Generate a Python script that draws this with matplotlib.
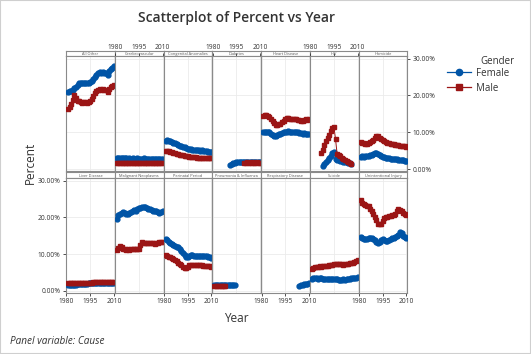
import matplotlib
matplotlib.use('Agg')
import matplotlib.pyplot as plt
from matplotlib.lines import Line2D
from matplotlib.patches import Rectangle

plt.rcParams['font.family'] = ['Open Sans', 'DejaVu Sans']

BLUE = '#0054a6'
RED = '#9b1515'
GRID = '#ebebeb'
EDGE = '#8a8a8a'
TXT = '#333333'

W, H = 531, 354

years = list(range(1981, 2011))

# percent of deaths by cause, female / male
all_other_f = [21.0, 21.1, 21.2, 21.5, 22.0, 22.4, 22.9, 23.3, 23.4, 23.5, 23.4, 23.3, 23.5, 23.4, 23.6,
               23.8, 24.5, 25.1, 25.6, 26.1, 26.3, 26.2, 26.4, 26.0, 26.2, 25.6, 26.5, 27.1, 27.3, 27.9]
all_other_m = [16.2, 16.9, 17.8, 18.9, 20.1, 19.4, 18.6, 18.5, 18.2, 18.0, 18.1, 18.2, 18.0, 18.3, 18.6,
               19.0, 19.8, 20.6, 21.3, 21.6, 21.8, 21.5, 21.7, 21.4, 21.6, 21.0, 21.8, 22.3, 22.5, 22.9]
cerebro_f = [3.1, 3.1, 3.0, 3.1, 3.0, 3.0, 3.0, 2.9, 3.0, 2.9, 3.0, 2.9, 2.9, 3.0, 2.9,
             2.9, 2.9, 3.0, 2.9, 2.9, 2.8, 2.9, 2.8, 2.8, 2.9, 2.8, 2.8, 2.8, 2.7, 2.8]
cerebro_m = [1.8, 1.8, 1.7, 1.8, 1.7, 1.7, 1.6, 1.7, 1.7, 1.6, 1.7, 1.7, 1.6, 1.7, 1.7,
             1.6, 1.7, 1.6, 1.7, 1.7, 1.6, 1.7, 1.6, 1.7, 1.6, 1.7, 1.7, 1.6, 1.7, 1.7]
congenital_f = [7.8, 7.9, 7.7, 7.6, 7.4, 7.2, 7.0, 6.8, 6.6, 6.4, 6.3, 6.1, 6.0, 5.8, 5.6,
                5.5, 5.4, 5.3, 5.2, 5.3, 5.1, 5.1, 5.0, 5.1, 5.0, 4.9, 4.9, 4.8, 4.8, 4.6]
congenital_m = [4.9, 5.0, 4.9, 4.8, 4.6, 4.5, 4.4, 4.2, 4.1, 3.9, 3.9, 3.8, 3.7, 3.6, 3.5,
                3.4, 3.4, 3.4, 3.3, 3.3, 3.2, 3.2, 3.2, 3.1, 3.1, 3.1, 3.0, 3.0, 3.0, 3.0]
diabetes_f_years = list(range(1991, 2011))
diabetes_f = [1.2, 1.4, 1.6, 1.8, 1.9, 2.0, 2.0, 2.0, 2.1, 2.0, 2.0, 2.0, 2.1, 2.0, 2.0, 2.0, 2.1, 2.0, 2.0, 2.0]
diabetes_m_years = list(range(2000, 2011))
diabetes_m = [1.8, 1.8, 1.9, 1.8, 1.8, 1.9, 1.8, 1.8, 1.9, 1.8, 1.8]
heart_f = [10.0, 10.1, 10.2, 10.2, 10.0, 9.7, 9.3, 9.1, 9.1, 9.3, 9.5, 9.7, 9.8, 10.0, 10.1,
           10.2, 10.3, 10.2, 10.1, 10.1, 10.0, 10.0, 10.1, 9.9, 9.8, 9.7, 9.8, 9.7, 9.6, 9.5]
heart_m = [14.5, 14.6, 14.7, 14.5, 14.1, 13.6, 13.1, 12.6, 12.1, 12.0, 12.2, 12.4, 12.7, 13.2, 13.7,
           13.9, 13.8, 13.7, 13.7, 13.6, 13.5, 13.5, 13.4, 13.3, 13.2, 13.1, 13.3, 13.6, 13.4, 13.5]
hiv_f_years = list(range(1988, 2007))
hiv_f = [1.0, 1.5, 2.0, 2.6, 3.1, 3.7, 4.4, 4.8, 2.9, 2.6, 2.4, 2.3, 2.2, 2.1, 2.0, 1.9, 1.7, 1.6, 1.4]
hiv_m_years = list(range(1987, 2007))
hiv_m = [4.3, 5.3, 6.6, 7.6, 8.6, 9.4, 10.4, 11.2, 11.4, 8.2, 4.2, 3.8, 3.5, 3.2, 2.9, 2.6, 2.3, 2.0, 1.8, 1.5]
homicide_f = [3.4, 3.5, 3.4, 3.6, 3.6, 3.7, 3.8, 4.0, 4.2, 4.4, 4.4, 4.2, 3.9, 3.6, 3.4,
              3.3, 3.2, 3.1, 3.0, 2.9, 2.9, 2.8, 2.8, 2.7, 2.6, 2.5, 2.5, 2.4, 2.3, 2.3]
homicide_m = [7.4, 7.2, 7.0, 6.9, 6.9, 7.1, 7.3, 7.6, 8.0, 8.4, 8.9, 9.0, 8.6, 8.2, 7.9,
              7.6, 7.3, 7.1, 7.0, 6.9, 6.9, 6.8, 6.7, 6.6, 6.5, 6.4, 6.4, 6.3, 6.2, 6.0]
liver_f = [1.6, 1.6, 1.7, 1.6, 1.7, 1.7, 1.8, 1.8, 1.8, 1.9, 1.9, 1.9, 1.9, 2.0, 2.0,
           2.0, 2.0, 2.1, 2.0, 2.0, 2.1, 2.1, 2.0, 2.1, 2.1, 2.1, 2.1, 2.1, 2.2, 2.2]
liver_m = [2.0, 2.0, 2.0, 2.0, 2.0, 2.0, 2.1, 2.1, 2.1, 2.1, 2.1, 2.1, 2.2, 2.2, 2.2,
           2.2, 2.3, 2.4, 2.4, 2.3, 2.3, 2.4, 2.4, 2.3, 2.4, 2.3, 2.4, 2.4, 2.4, 2.4]
neoplasm_f = [19.4, 20.5, 21.0, 21.3, 21.5, 21.3, 21.0, 20.9, 21.2, 21.4, 21.6, 22.0, 21.8, 22.2, 22.4,
              22.6, 22.9, 22.8, 22.7, 22.5, 22.2, 22.2, 22.0, 21.8, 21.6, 21.7, 21.5, 21.3, 21.4, 21.6]
neoplasm_m = [11.2, 11.6, 12.1, 11.8, 11.4, 11.3, 11.2, 11.3, 11.2, 11.3, 11.3, 11.4, 11.4, 11.3, 11.5,
              12.4, 13.2, 13.1, 13.0, 13.1, 13.0, 12.9, 13.0, 12.9, 12.8, 12.9, 13.0, 13.2, 13.3, 13.4]
perinatal_f = [14.0, 13.7, 13.4, 13.1, 12.8, 12.5, 12.3, 12.0, 11.9, 11.4, 10.9, 10.3, 9.7, 9.1, 9.2,
               9.6, 9.8, 9.7, 9.5, 9.5, 9.6, 9.5, 9.4, 9.5, 9.6, 9.5, 9.4, 9.3, 9.1, 8.9]
perinatal_m = [9.8, 9.6, 9.3, 9.1, 8.8, 8.6, 8.3, 8.0, 7.7, 7.3, 7.0, 6.6, 6.3, 6.1, 6.4,
               6.9, 7.1, 7.0, 7.1, 7.0, 7.0, 6.9, 6.9, 6.9, 6.8, 6.8, 6.8, 6.7, 6.7, 6.6]
pneumonia_f_years = list(range(1981, 1995))
pneumonia_f = [1.6, 1.6, 1.5, 1.6, 1.6, 1.6, 1.5, 1.6, 1.6, 1.6, 1.6, 1.6, 1.7, 1.6]
pneumonia_m_years = list(range(1981, 1989))
pneumonia_m = [1.3, 1.2, 1.3, 1.2, 1.2, 1.3, 1.2, 1.2]
respiratory_f_years = list(range(2004, 2011))
respiratory_f = [1.4, 1.5, 1.5, 1.8, 1.9, 1.9, 2.0]
suicide_f = [3.3, 3.4, 3.4, 3.4, 3.3, 3.4, 3.4, 3.3, 3.3, 3.2, 3.3, 3.2, 3.2, 3.2, 3.1,
             3.1, 3.1, 3.0, 3.0, 3.0, 3.1, 3.0, 3.1, 3.2, 3.3, 3.4, 3.4, 3.5, 3.6, 3.7]
suicide_m = [6.0, 6.2, 6.5, 6.6, 6.6, 6.7, 6.6, 6.7, 6.7, 6.8, 6.8, 6.9, 7.0, 7.1, 7.3,
             7.4, 7.3, 7.2, 7.2, 7.2, 7.1, 7.2, 7.2, 7.3, 7.5, 7.6, 7.6, 7.8, 8.1, 8.3]
injury_f = [14.6, 14.3, 14.0, 14.1, 14.2, 14.3, 14.4, 14.3, 14.0, 13.7, 13.3, 13.0, 13.3, 13.7, 14.0,
            13.8, 13.6, 13.5, 13.8, 14.1, 14.3, 14.4, 14.6, 15.0, 15.3, 15.9, 15.6, 15.0, 14.6, 14.3]
injury_m = [24.7, 24.0, 23.7, 23.4, 23.2, 23.0, 22.2, 21.6, 21.0, 20.2, 19.3, 18.3, 18.1, 18.3, 19.0,
            19.8, 20.0, 20.1, 20.3, 20.4, 20.5, 20.7, 21.0, 21.6, 22.2, 21.9, 21.6, 21.2, 20.9, 20.7]

# (label, female years, female values, male years, male values)
top_row = [
    ('All Other', years, all_other_f, years, all_other_m),
    ('Cerebrovascular', years, cerebro_f, years, cerebro_m),
    ('Congenital Anomalies', years, congenital_f, years, congenital_m),
    ('Diabetes', diabetes_f_years, diabetes_f, diabetes_m_years, diabetes_m),
    ('Heart Disease', years, heart_f, years, heart_m),
    ('HIV', hiv_f_years, hiv_f, hiv_m_years, hiv_m),
    ('Homicide', years, homicide_f, years, homicide_m),
]
bottom_row = [
    ('Liver Disease', years, liver_f, years, liver_m),
    ('Malignant Neoplasms', years, neoplasm_f, years, neoplasm_m),
    ('Perinatal Period', years, perinatal_f, years, perinatal_m),
    ('Pneumonia & Influenza', pneumonia_f_years, pneumonia_f, pneumonia_m_years, pneumonia_m),
    ('Respiratory Disease', respiratory_f_years, respiratory_f, [], []),
    ('Suicide', years, suicide_f, years, suicide_m),
    ('Unintentional Injury', years, injury_f, years, injury_m),
]

x_ticks = [1980, 1995, 2010]
y_ticks = [0, 10, 20, 30]
y_labels = ['0.00%', '10.00%', '20.00%', '30.00%']


def px_rect(left, top, width, height):
    return [left / W, 1 - (top + height) / H, width / W, height / H]


def style_spines(ax):
    for s in ax.spines.values():
        s.set_color(EDGE)
        s.set_linewidth(0.8)


def draw_panel(ax, panel, row, col):
    label, fy, fv, my, mv = panel
    ax.set_xlim(1979.7, 2010.6)
    ax.set_ylim(-0.45, 30.6)
    ax.set_xticks(x_ticks)
    ax.set_yticks(y_ticks)
    ax.grid(True, color=GRID, lw=0.6)
    ax.set_axisbelow(True)
    style_spines(ax)
    if len(fy):
        ax.plot(fy, fv, color=BLUE, lw=0.7, marker='o', ms=3.5, mec=BLUE, zorder=3)
    if len(my):
        ax.plot(my, mv, color=RED, lw=0.7, marker='s', ms=3.4, mec=RED, zorder=4)
    ax.tick_params(labelsize=4.8, colors=TXT, length=2.5, width=0.6,
                   labelbottom=False, labeltop=False, labelleft=False, labelright=False,
                   bottom=False, top=False, left=False, right=False, pad=1.5)
    if row == 0:
        if col % 2 == 1:
            ax.tick_params(top=True, labeltop=True)
        if col == 6:
            ax.tick_params(right=True, labelright=True)
    else:
        if col % 2 == 0:
            ax.tick_params(bottom=True, labelbottom=True)
        if col == 0:
            ax.tick_params(left=True, labelleft=True)
    ax.set_yticklabels(y_labels)


def draw_header(hax, label):
    hax.set_xticks([])
    hax.set_yticks([])
    style_spines(hax)
    hax.text(0.5, 0.45, label, ha='center', va='center', fontsize=2.8, color='#555555',
             transform=hax.transAxes)


fig = plt.figure(figsize=(W / 100, H / 100), dpi=100)

left0 = 66.0
col_w = 48.76
rows = [(top_row, 50.7, 56.3, 171.0), (bottom_row, 172.3, 178.3, 292.5)]

for r, (panels, h_top, p_top, p_bot) in enumerate(rows):
    for c, panel in enumerate(panels):
        x0 = left0 + c * col_w
        hax = fig.add_axes(px_rect(x0, h_top, col_w, p_top - h_top))
        draw_header(hax, panel[0])
        ax = fig.add_axes(px_rect(x0, p_top, col_w, p_bot - p_top))
        draw_panel(ax, panel, r, c)

fig.text(236.5 / W, 1 - 18 / H, 'Scatterplot of Percent vs Year', ha='center', va='center',
         fontsize=10, fontweight='semibold', color=TXT)
fig.text(236.5 / W, 1 - 319 / H, 'Year', ha='center', va='center', fontsize=8.5, color=TXT)
fig.text(30 / W, 1 - 163 / H, 'Percent', ha='center', va='center', rotation=90,
         fontsize=8.5, color=TXT)
fig.text(10 / W, 1 - 342 / H, 'Panel variable: Cause', ha='left', va='center',
         fontsize=7.2, style='italic', color=TXT)

fig.text(480 / W, 1 - 61 / H, 'Gender', ha='left', va='center', fontsize=7, color=TXT)
handles = [Line2D([], [], color=BLUE, lw=0.9, marker='o', ms=4.5),
           Line2D([], [], color=RED, lw=0.9, marker='s', ms=4.5)]
fig.legend(handles, ['Female', 'Male'], loc='upper left', bbox_to_anchor=(447 / W, 1 - 67.5 / H),
           frameon=False, fontsize=7, handlelength=2.5, handletextpad=0.45,
           labelspacing=0.45, labelcolor=TXT, borderaxespad=0, borderpad=0)

fig.patches.append(Rectangle((0, 0), 1, 1, transform=fig.transFigure, fill=False,
                             edgecolor='#cfcfcf', lw=1.5))

fig.savefig('out.png', dpi=100)
